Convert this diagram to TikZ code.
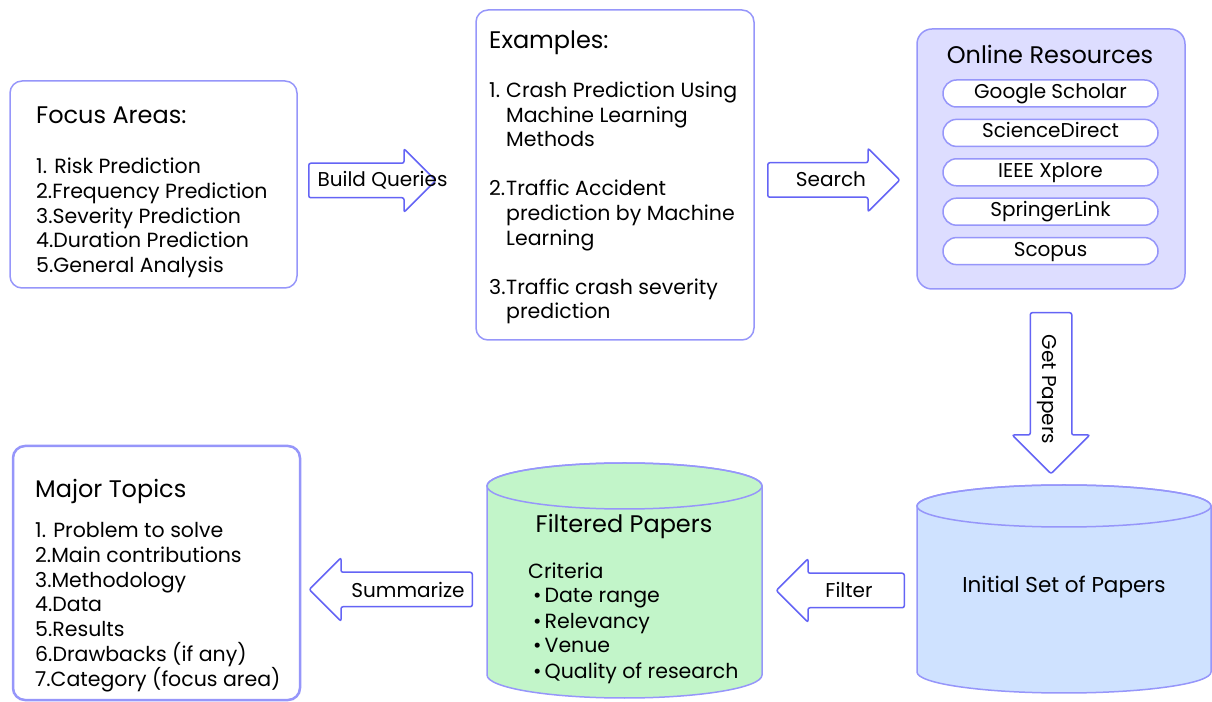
\documentclass[tikz,border=0pt]{standalone}
\usepackage{fontspec}
\setmainfont{Poppins}
\usetikzlibrary{positioning}
\usetikzlibrary{shapes.arrows}
\usetikzlibrary{shapes.misc}
\definecolor{BoxLine}{RGB}{150,150,250}
\definecolor{ArrowLine}{RGB}{100,100,245}
\definecolor{ResFill}{RGB}{221,221,255}
\definecolor{InitFill}{RGB}{207,226,255}
\definecolor{FiltFill}{RGB}{194,245,201}
\newcommand{\bodysize}{\fontsize{20.5}{24.7}\selectfont}
\newcommand{\headsize}{\fontsize{24}{28}\selectfont}
\newcommand{\storesize}{\fontsize{21.5}{26}\selectfont}
\newcommand{\numitem}[1]{\makebox[17pt][l]{#1}}
\newcommand{\critem}{\hspace*{5pt}\textbullet\hspace{3pt}}
\tikzset{
  % rounded frames holding the lists
  areabox/.style={
    draw=BoxLine,fill=white,line width=1.5pt,rounded corners=12pt,
  },
  % text of the lists, placed by the baseline of its last line
  listtext/.style={align=left,inner sep=0pt,font=\bodysize,anchor=base west},
  % entries of the resource list
  pill/.style={
    rounded rectangle,draw=BoxLine,fill=white,line width=1.5pt,
    minimum width=215pt,minimum height=27pt,inner sep=0pt,
    text height=14pt,text depth=4pt,
    font=\fontsize{20}{24}\selectfont,
  },
  % block arrows between the steps
  flow/.style={
    single arrow,draw=ArrowLine,fill=white,line width=1.5pt,
    rounded corners=2pt,single arrow head extend=14.5pt,anchor=tail,
    text height=14pt,text depth=5pt,inner ysep=7pt,inner xsep=0pt,
  },
  flowtext/.style={font=\fontsize{20}{24}\selectfont,anchor=base,inner sep=0pt},
  % paper stores
  store/.style={draw=BoxLine,line width=1.5pt},
}

\begin{document}
\begin{tikzpicture}[x=1pt,y=1pt]
  \useasboundingbox (0,0) rectangle (1212,701);

  % focus areas
  \node[areabox,minimum width=287pt,minimum height=207pt] (focus) at (153.5,516.5) {};
  \node[listtext] (focustext) at (36,428.5)
  {{\headsize Focus Areas:}\\[25.3pt]
   1. Risk Prediction\\
   2.Frequency Prediction\\
   3.Severity Prediction\\
   4.Duration Prediction\\
   5.General Analysis};

  % examples of queries
  \node[areabox,minimum width=278pt,minimum height=330pt] (examples) at (615,526) {};
  \node[listtext] (examplestext) at (489,382)
  {{\headsize Examples:}\\[24.3pt]
   \numitem{1.}Crash Prediction Using\\
   \numitem{}Machine Learning\\
   \numitem{}Methods\\[24.3pt]
   \numitem{2.}Traffic Accident\\
   \numitem{}prediction by Machine\\
   \numitem{}Learning\\[24.3pt]
   \numitem{3.}Traffic crash severity\\
   \numitem{}prediction};

  % online resources
  \node[areabox,fill=ResFill,rounded corners=15pt,
        minimum width=268pt,minimum height=260pt] (online) at (1051,542) {};
  \node[font=\headsize,anchor=base,inner sep=0pt] (onlinetitle) at (1050,637) {Online Resources};
  \node[pill] (scholar) at (1050.5,607.5) {Google Scholar};
  \node[pill,below=10.9pt of scholar] (sciencedirect) {ScienceDirect};
  \node[pill,below=10.9pt of sciencedirect] (ieee) {IEEE Xplore};
  \node[pill,below=10.9pt of ieee] (springer) {SpringerLink};
  \node[pill,below=10.9pt of springer] (scopus) {Scopus};

  % major topics
  \node[areabox,line width=2.5pt,minimum width=287pt,minimum height=254pt] (major) at (156.5,128) {};
  \node[listtext] (majortext) at (35,15)
  {{\headsize Major Topics}\\[15.3pt]
   1. Problem to solve\\
   2.Main contributions\\
   3.Methodology\\
   4.Data\\
   5.Results\\
   6.Drawbacks (if any)\\
   7.Category (focus area)};

  % initial set of papers
  \filldraw[store,fill=InitFill] (917,195) -- (917,29)
    arc[start angle=180,end angle=360,x radius=147pt,y radius=21pt]
    -- (1211,195)
    arc[start angle=0,end angle=180,x radius=147pt,y radius=21pt] -- cycle;
  \draw[store] (1064,195) ellipse[x radius=147pt,y radius=21pt];
  \node[font=\storesize,anchor=base,inner sep=0pt] (initial) at (1064,108) {Initial Set of Papers};

  % filtered papers
  \filldraw[store,fill=FiltFill] (487,215) -- (487,26)
    arc[start angle=180,end angle=360,x radius=137.5pt,y radius=23pt]
    -- (762,215)
    arc[start angle=0,end angle=180,x radius=137.5pt,y radius=23pt] -- cycle;
  \draw[store] (624.5,215) ellipse[x radius=137.5pt,y radius=23pt];
  \node[font=\headsize,anchor=base,inner sep=0pt] (filtered) at (624,168) {Filtered Papers};
  \node[listtext,font=\fontsize{20.5}{25}\selectfont] (criteria) at (528,23)
  {Criteria\\
   \critem Date range\\
   \critem Relevancy\\
   \critem Venue\\
   \critem Quality of research};

  % block arrows
  \node[flow,minimum height=127pt] (buildq) at (308,520.5) {};
  \node[flowtext] (buildqtext) at (382.5,514) {Build Queries};
  \node[flow,minimum height=132pt] (search) at (767,521) {};
  \node[flowtext] (searchtext) at (831,514) {Search};
  \node[flow,rotate=-90,minimum height=161pt,inner ysep=10.5pt,
        single arrow head extend=18pt] (getpapers) at (1051,389) {};
  \node[flowtext,rotate=-90] (getpaperstext) at (1042.5,311.5) {Get Papers};
  \node[flow,shape border rotate=180,minimum height=128pt,inner ysep=7pt] (filter) at (905,110.5) {};
  \node[flowtext] (filtertext) at (849,103) {Filter};
  \node[flow,shape border rotate=180,minimum height=163pt,inner ysep=7pt] (summarize) at (473,111.5) {};
  \node[flowtext] (summarizetext) at (408,103) {Summarize};
\end{tikzpicture}
\end{document}
